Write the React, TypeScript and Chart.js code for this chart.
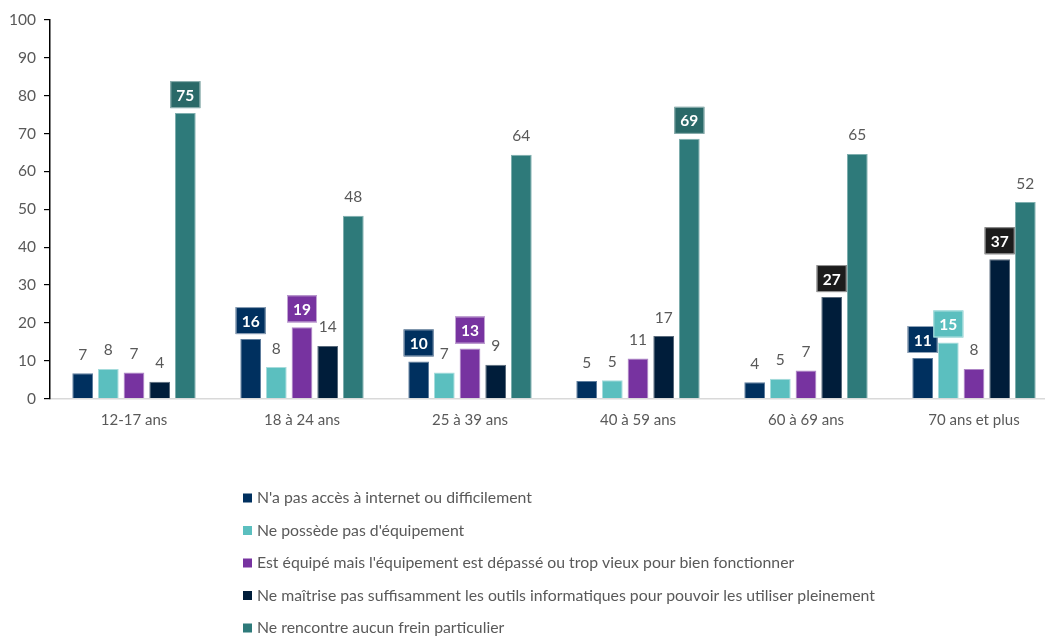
import React, { useEffect, useRef } from "react";
import { Chart, registerables } from "chart.js";

Chart.register(...registerables);

const categories = ["12-17 ans", "18 à 24 ans", "25 à 39 ans", "40 à 59 ans", "60 à 69 ans", "70 ans et plus"];

const seriesNames = [
  "N'a pas accès à internet ou difficilement",
  "Ne possède pas d'équipement",
  "Est équipé mais l'équipement est dépassé ou trop vieux pour bien fonctionner",
  "Ne maîtrise pas suffisamment les outils informatiques pour pouvoir les utiliser pleinement",
  "Ne rencontre aucun frein particulier",
];

const noAccess = [6.7, 15.7, 9.8, 4.6, 4.3, 10.7];
const noEquipment = [7.8, 8.3, 6.9, 4.8, 5.2, 14.8];
const outdated = [6.9, 18.8, 13.2, 10.6, 7.4, 7.8];
const noSkills = [4.4, 13.9, 8.9, 16.5, 26.8, 36.8];
const noBarrier = [75.4, 48.3, 64.4, 68.6, 64.6, 51.9];

const yTicks = [0, 10, 20, 30, 40, 50, 60, 70, 80, 90, 100];

// [seriesIndex, categoryIndex] of labels shown in a coloured box
const highlighted: [number, number][] = [
  [4, 0],
  [0, 1], [2, 1],
  [0, 2], [2, 2],
  [4, 3],
  [3, 4],
  [0, 5], [1, 5], [3, 5],
];

const barColors = ["#00305F", "#5BBFBF", "#7733A0", "#001D3A", "#2E7A7A"];
const barEdges = ["#5F7E9E", "#A6DCDC", "#AE86C6", "#5A6B7C", "#7FAFAF"];
const boxColors = ["#00305F", "#5BBFBF", "#7733A0", "#1C1C1C", "#2A6968"];
const boxEdges = ["#8FA3B8", "#B5E2E2", "#C2A5D3", "#9A9A9A", "#93B3B3"];

const FONT = "Lato, 'Open Sans', sans-serif";
const GRAY = "#595959";

const labelPlugin = {
  id: "valueLabels",
  afterDatasetsDraw(chart: any) {
    const ctx = chart.ctx as CanvasRenderingContext2D;
    ctx.save();
    chart.data.datasets.forEach((ds: any, di: number) => {
      const meta = chart.getDatasetMeta(di);
      meta.data.forEach((bar: any, ci: number) => {
        const v = ds.data[ci] as number;
        const txt = String(Math.round(v));
        const cx = bar.x;
        const cy = bar.y - 18.5;
        const isHi = highlighted.some(([s, c]) => s === di && c === ci);
        ctx.textAlign = "center";
        ctx.textBaseline = "middle";
        if (isHi) {
          ctx.font = `bold 15.5px ${FONT}`;
          const w = Math.max(29, ctx.measureText(txt).width + 12);
          const h = 27;
          ctx.fillStyle = boxColors[di];
          ctx.fillRect(cx - w / 2, cy - h / 2, w, h);
          ctx.strokeStyle = boxEdges[di];
          ctx.lineWidth = 1;
          ctx.strokeRect(cx - w / 2 + 0.5, cy - h / 2 + 0.5, w - 1, h - 1);
          ctx.fillStyle = "#FFFFFF";
          ctx.fillText(txt, cx, cy + 1);
        } else {
          ctx.font = `15.5px ${FONT}`;
          ctx.fillStyle = GRAY;
          ctx.fillText(txt, cx, cy);
        }
      });
    });
    ctx.restore();
  },
};

const legendPlugin = {
  id: "stackedLegend",
  afterDraw(chart: any) {
    const ctx = chart.ctx as CanvasRenderingContext2D;
    ctx.save();
    ctx.font = `15.8px ${FONT}`;
    ctx.textAlign = "left";
    ctx.textBaseline = "middle";
    chart.data.datasets.forEach((ds: any, i: number) => {
      const y = 498 + i * 32.5;
      ctx.fillStyle = ds.backgroundColor;
      ctx.fillRect(243, y - 4.5, 9, 9);
      ctx.fillStyle = GRAY;
      ctx.fillText(ds.label, 257, y);
    });
    ctx.restore();
  },
};

export default function App() {
  const ref = useRef<HTMLCanvasElement | null>(null);

  useEffect(() => {
    document.body.style.margin = "0";
    document.body.style.overflow = "hidden";
    const canvas = ref.current;
    if (!canvas) return;
    const seriesValues = [noAccess, noEquipment, outdated, noSkills, noBarrier];
    const chart = new Chart(canvas, {
      type: "bar",
      data: {
        labels: categories,
        datasets: seriesValues.map((vals, i) => ({
          label: seriesNames[i],
          data: vals,
          backgroundColor: barColors[i],
          borderColor: barEdges[i],
          borderWidth: 1,
          categoryPercentage: 0.764,
          barPercentage: 0.807,
        })),
      },
      options: {
        responsive: false,
        animation: false,
        devicePixelRatio: 1,
        layout: { padding: { top: 20, left: 0, right: 0, bottom: 198.5 } },
        plugins: {
          legend: { display: false },
          tooltip: { enabled: false },
        },
        scales: {
          x: {
            grid: { display: false, drawTicks: false },
            border: { display: true, color: "#D9D9D9", width: 1.5 },
            ticks: {
              color: GRAY,
              font: { family: FONT, size: 15 },
              padding: 13,
            },
            afterFit: (s: any) => {
              s.height = 40;
            },
          },
          y: {
            min: 0,
            max: 100,
            afterBuildTicks: (s: any) => {
              s.ticks = yTicks.map((v) => ({ value: v }));
            },
            grid: {
              drawOnChartArea: false,
              drawTicks: true,
              tickLength: 6,
              color: "#000000",
              lineWidth: 1.2,
            },
            border: { display: true, color: "#000000", width: 1.5 },
            ticks: {
              color: GRAY,
              font: { family: FONT, size: 15.5 },
              padding: 8,
            },
            afterFit: (s: any) => {
              s.width = 50;
            },
          },
        },
      },
      plugins: [labelPlugin, legendPlugin],
    });
    return () => chart.destroy();
  }, []);

  return (
    <div style={{ width: 1045, height: 637, overflow: "hidden", background: "#fff" }}>
      <canvas ref={ref} width={1058} height={637} style={{ display: "block" }} />
    </div>
  );
}
